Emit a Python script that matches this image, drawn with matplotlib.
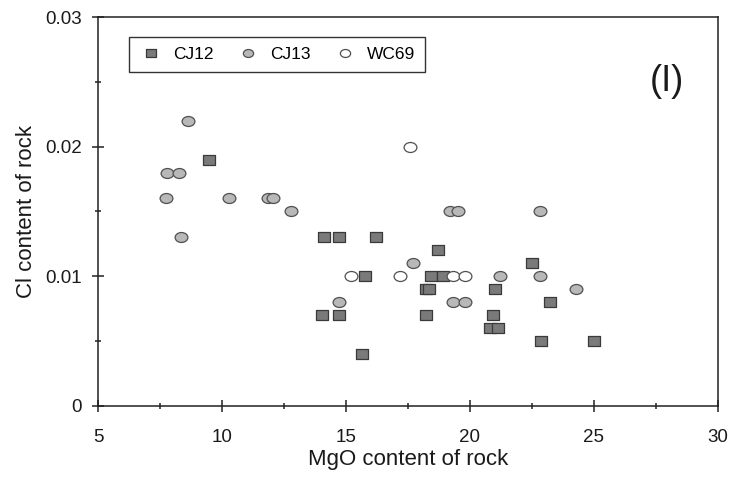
import matplotlib
matplotlib.use('Agg')
from matplotlib import pyplot as plt
from matplotlib.path import Path
from matplotlib.transforms import Affine2D
from matplotlib.ticker import MultipleLocator

plt.rcParams['font.family'] = ['Liberation Sans', 'DejaVu Sans']

# MgO (x) and Cl (y) content of rock for each sample set
cj12_mgo = [9.47, 14.11, 14.73, 16.22, 18.72, 22.51, 15.75, 18.43, 18.90,
            18.22, 18.35, 21.02, 23.22, 14.02, 14.73, 18.22, 20.92, 20.81,
            21.14, 22.85, 25.0, 15.64]
cj12_cl = [0.019, 0.013, 0.013, 0.013, 0.012, 0.011, 0.010, 0.010, 0.010,
           0.009, 0.009, 0.009, 0.008, 0.007, 0.007, 0.007, 0.007, 0.006,
           0.006, 0.005, 0.005, 0.004]

cj13_mgo = [8.61, 7.78, 8.24, 7.72, 10.29, 11.86, 12.06, 12.78, 8.35, 19.18,
            19.50, 22.81, 17.71, 21.21, 22.81, 24.29, 14.73, 19.31, 19.81]
cj13_cl = [0.022, 0.018, 0.018, 0.016, 0.016, 0.016, 0.016, 0.015, 0.013,
           0.015, 0.015, 0.015, 0.011, 0.010, 0.010, 0.009, 0.008, 0.008,
           0.008]

wc69_mgo = [17.58, 15.20, 17.19, 19.33, 19.81]
wc69_cl = [0.020, 0.010, 0.010, 0.010, 0.010]

xticks = [5, 10, 15, 20, 25, 30]
yticks = [0, 0.01, 0.02, 0.03]
ytick_labels = ['0', '0.01', '0.02', '0.03']

# slightly flattened markers
ellipse = Path.unit_circle().transformed(Affine2D().scale(1, 0.78))
box = Path.unit_rectangle().transformed(Affine2D().translate(-0.5, -0.5).scale(1, 0.85))

fig = plt.figure(figsize=(7.35, 4.79), dpi=100)
ax = fig.add_axes([98.3 / 735, 1 - 405.5 / 479, 619.4 / 735, 388.2 / 479])

ax.plot(cj12_mgo, cj12_cl, ls='none', marker=box, ms=8.8, mfc='#7a7a7a',
        mec='#3a3a3a', mew=0.9, label='CJ12')
ax.plot(cj13_mgo, cj13_cl, ls='none', marker=ellipse, ms=9.2, mfc='#b8b8b8',
        mec='#505050', mew=0.9, label='CJ13')
ax.plot(wc69_mgo, wc69_cl, ls='none', marker=ellipse, ms=9.2, mfc='white',
        mec='#505050', mew=0.9, label='WC69')

ax.set_xlim(5, 30)
ax.set_ylim(0, 0.03)
ax.set_xticks(xticks)
ax.set_yticks(yticks)
ax.set_yticklabels(ytick_labels)
ax.xaxis.set_minor_locator(MultipleLocator(2.5))
ax.yaxis.set_minor_locator(MultipleLocator(0.005))
ax.tick_params(which='major', direction='inout', length=8, width=1.1,
               color='#222222', labelsize=13.5, labelcolor='#1a1a1a')
ax.tick_params(which='minor', direction='inout', length=5, width=1.1,
               color='#222222')
ax.tick_params(axis='x', which='major', pad=13)
ax.tick_params(axis='y', which='major', pad=8)
for s in ax.spines.values():
    s.set_linewidth(1.1)
    s.set_color('#222222')

ax.set_xlabel('MgO content of rock', fontsize=16, color='#1a1a1a', labelpad=2)
ax.set_ylabel('Cl content of rock', fontsize=16, color='#1a1a1a', labelpad=6)

ax.text(666.7 / 735, 1 - 81.7 / 479, '(I)', transform=fig.transFigure,
        fontsize=26, ha='center', va='center', color='#1a1a1a')

leg = ax.legend(ncol=3, loc='upper left',
                bbox_to_anchor=(129.3 / 735, 1 - 37.3 / 479),
                bbox_transform=fig.transFigure, borderaxespad=0,
                fancybox=False, framealpha=1, edgecolor='#333333',
                fontsize=12.5, markerscale=0.8, handlelength=1.4,
                handletextpad=0.6, columnspacing=1.25, borderpad=0.55)
leg.get_frame().set_linewidth(1.0)

fig.savefig('out.png', dpi=100)
